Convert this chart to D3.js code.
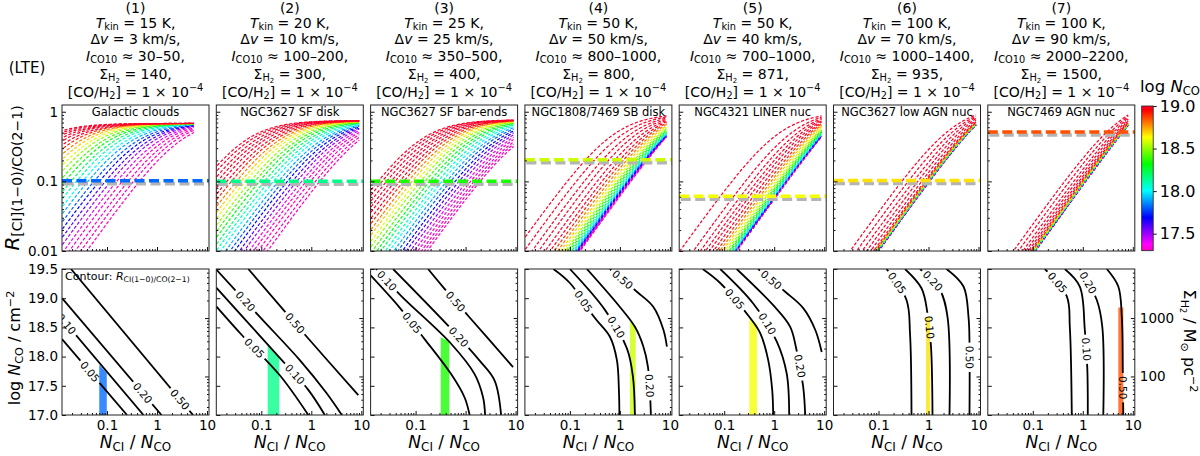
<!DOCTYPE html>
<html>
<head>
<meta charset="utf-8">
<script src="https://cdn.jsdelivr.net/npm/d3@7"></script>
<style>
body { margin: 0; background: #fff; }
svg { display: block; font-family: "DejaVu Sans", sans-serif; }
text { white-space: pre; }
</style>
</head>
<body>
<div id="vis"></div>
<script>
// ---------------- data ----------------
var panelNames = ['Galactic clouds', 'NGC3627 SF disk', 'NGC3627 SF bar-ends', 'NGC1808/7469 SB disk',
    'NGC4321 LINER nuc', 'NGC3627 low AGN nuc', 'NGC7469 AGN nuc'];
var tkin = [15, 20, 25, 50, 50, 100, 100];
var dv = [3, 10, 25, 50, 40, 70, 90];
var ico10 = ['30–50', '100–200', '350–500', '800–1000', '700–1000', '1000–1400', '2000–2200'];
var sigmaH2 = [140, 300, 400, 800, 871, 935, 1500];

// model curves (top row), one per log N_CO
var logNCO = [17.0, 17.1, 17.2, 17.3, 17.4, 17.5, 17.6, 17.7, 17.8, 17.9, 18.0, 18.1, 18.2,
    18.3, 18.4, 18.5, 18.6, 18.7, 18.8, 18.9, 19.0, 19.1, 19.2, 19.3, 19.4, 19.5];
// last N_CI/N_CO of each curve, per panel
var xEnd = [5.5, 9.1, 9.1, 8.6, 8.9, 8.9, 8.1];
// log10(N_CI/N_CO) where the rising part of each curve sits at R = 0.01
var lgX01 = [
    [-1.41, -1.53, -1.64, -1.76, -1.87, -1.99, -2.10, -2.22, -2.33, -2.45, -2.56, -2.68, -2.79, -2.91, -3.02, -3.14, -3.25, -3.37, -3.48, -3.60, -3.71, -3.83, -3.94, -4.06, -4.17, -4.29],
    [-0.88, -0.97, -1.07, -1.16, -1.25, -1.35, -1.44, -1.54, -1.63, -1.72, -1.82, -1.91, -2.00, -2.10, -2.19, -2.28, -2.38, -2.47, -2.56, -2.66, -2.75, -2.85, -2.94, -3.03, -3.13, -3.22],
    [-0.77, -0.83, -0.89, -0.96, -1.03, -1.11, -1.19, -1.27, -1.36, -1.44, -1.53, -1.61, -1.70, -1.78, -1.87, -1.96, -2.04, -2.13, -2.21, -2.30, -2.38, -2.47, -2.55, -2.64, -2.73, -2.81],
    [-0.80, -0.805, -0.81, -0.82, -0.83, -0.84, -0.85, -0.86, -0.88, -0.90, -0.92, -0.94, -0.97, -1.01, -1.05, -1.09, -1.14, -1.19, -1.25, -1.32, -1.40, -1.50, -1.63, -1.76, -1.92, -2.10],
    [-0.75, -0.752, -0.755, -0.76, -0.765, -0.77, -0.775, -0.78, -0.79, -0.80, -0.81, -0.83, -0.85, -0.88, -0.91, -0.95, -0.99, -1.04, -1.09, -1.15, -1.22, -1.30, -1.38, -1.48, -1.62, -1.89],
    [-1.00, -1.00, -1.002, -1.004, -1.006, -1.008, -1.01, -1.012, -1.015, -1.018, -1.021, -1.024, -1.028, -1.032, -1.036, -1.04, -1.046, -1.052, -1.06, -1.07, -1.10, -1.16, -1.24, -1.33, -1.44, -1.57],
    [-0.95, -0.95, -0.952, -0.954, -0.956, -0.958, -0.96, -0.962, -0.965, -0.968, -0.971, -0.974, -0.978, -0.982, -0.986, -0.99, -0.995, -1.0, -1.01, -1.02, -1.05, -1.09, -1.14, -1.20, -1.29, -1.39]
];
// R at the right end of each curve
var rEnd = [
    [0.503, 0.54, 0.566, 0.587, 0.605, 0.619, 0.628, 0.633, 0.643, 0.651, 0.657, 0.663, 0.667, 0.67, 0.672, 0.674, 0.675, 0.676, 0.677, 0.678, 0.678, 0.679, 0.679, 0.679, 0.68, 0.68],
    [0.39, 0.43, 0.47, 0.505, 0.535, 0.56, 0.58, 0.60, 0.62, 0.635, 0.65, 0.665, 0.68, 0.69, 0.70, 0.71, 0.715, 0.72, 0.725, 0.73, 0.733, 0.736, 0.739, 0.742, 0.745, 0.747],
    [0.316, 0.342, 0.368, 0.399, 0.43, 0.465, 0.498, 0.529, 0.562, 0.589, 0.616, 0.638, 0.658, 0.675, 0.691, 0.704, 0.715, 0.724, 0.732, 0.738, 0.743, 0.748, 0.752, 0.755, 0.757, 0.76],
    [0.44, 0.442, 0.444, 0.446, 0.449, 0.452, 0.455, 0.46, 0.468, 0.475, 0.485, 0.495, 0.51, 0.53, 0.55, 0.575, 0.60, 0.63, 0.66, 0.69, 0.72, 0.75, 0.78, 0.81, 0.84, 0.87],
    [0.44, 0.442, 0.444, 0.446, 0.449, 0.452, 0.455, 0.46, 0.466, 0.473, 0.482, 0.492, 0.505, 0.52, 0.54, 0.565, 0.59, 0.62, 0.65, 0.68, 0.71, 0.74, 0.77, 0.80, 0.835, 0.87],
    [0.645, 0.646, 0.647, 0.648, 0.649, 0.65, 0.652, 0.654, 0.656, 0.658, 0.66, 0.663, 0.666, 0.669, 0.672, 0.675, 0.679, 0.683, 0.688, 0.70, 0.72, 0.76, 0.80, 0.84, 0.87, 0.90],
    [0.64, 0.641, 0.642, 0.643, 0.644, 0.645, 0.647, 0.649, 0.651, 0.653, 0.655, 0.658, 0.661, 0.664, 0.667, 0.67, 0.674, 0.678, 0.683, 0.69, 0.71, 0.74, 0.78, 0.82, 0.86, 0.90]
];

// observed ratio (horizontal dashed line) and its colour value (log N_CO)
var obsR = [0.102, 0.10, 0.10, 0.204, 0.061, 0.103, 0.51];
var obsLogN = [17.82, 18.15, 18.35, 18.57, 18.62, 18.67, 18.85];
// allowed region in the bottom row: N_CI/N_CO range and top edge (log N_CO) at both sides
var bandX1 = [0.070, 0.134, 0.318, 1.59, 0.318, 0.89, 5.13];
var bandX2 = [0.099, 0.229, 0.472, 2.07, 0.453, 1.07, 6.46];
var bandTop1 = [17.86, 18.22, 18.33, 18.61, 18.66, 18.68, 18.84];
var bandTop2 = [17.72, 17.98, 18.26, 18.52, 18.56, 18.68, 18.84];

// contours of R in the (log N_CI/N_CO, log N_CO) plane
var c05 = [
    [[-1.9, 18.3], [-0.6, 17.0]],
    [[-1.9, 18.86], [-1.39, 18.37], [-0.63, 17.68], [-0.06, 17.0]],
    [[-1.9, 19.39], [-1.32, 18.84], [-0.82, 18.30], [-0.29, 17.70], [-0.02, 17.30], [0.08, 17.0]],
    [[-1.33, 19.5], [-1.0, 19.26], [-0.5, 18.66], [-0.2, 18.34], [-0.06, 17.94], [-0.02, 17.43], [-0.01, 17.0]],
    [[-1.43, 19.5], [-1.08, 19.26], [-0.48, 18.66], [-0.28, 18.40], [-0.12, 17.94], [-0.04, 17.43], [-0.02, 17.0]],
    [[-0.84, 19.5], [-0.44, 18.97], [-0.37, 18.40], [-0.34, 17.0]],
    [[-0.76, 19.5], [-0.32, 19.03], [-0.26, 18.51], [-0.22, 17.0]]
];
var c10 = [
    [[-1.9, 18.65], [-0.27, 17.0]],
    [[-1.9, 19.18], [-0.59, 17.94], [-0.06, 17.43], [0.27, 17.0]],
    [[-1.79, 19.5], [-1.29, 19.04], [-0.29, 18.22], [0.18, 17.70], [0.35, 17.30], [0.39, 17.0]],
    [[-1.0, 19.5], [-0.3, 18.80], [0.14, 18.14], [0.26, 17.66], [0.30, 17.0]],
    [[-1.08, 19.5], [-0.42, 18.91], [0.05, 18.26], [0.25, 17.71], [0.30, 17.0]],
    [[-0.47, 19.5], [-0.14, 19.17], [-0.02, 18.74], [0.05, 18.17], [0.08, 17.0]],
    [[-0.36, 19.5], [-0.06, 19.20], [0.04, 18.46], [0.09, 17.80], [0.10, 17.0]]
];
var c20 = [
    [[-1.9, 19.0], [0.09, 17.0]],
    [[-1.9, 19.49], [-1.03, 18.68], [-0.23, 17.94], [0.30, 17.38], [0.61, 17.0]],
    [[-1.45, 19.5], [-0.25, 18.44], [0.28, 17.93], [0.58, 17.59], [0.71, 17.0]],
    [[-0.66, 19.5], [0.0, 18.85], [0.30, 18.51], [0.47, 18.17], [0.56, 17.83], [0.62, 17.0]],
    [[-0.75, 19.5], [-0.02, 18.88], [0.32, 18.51], [0.44, 18.14], [0.58, 17.48], [0.62, 17.0]],
    [[-0.17, 19.5], [0.23, 19.14], [0.38, 18.68], [0.42, 17.0]],
    [[-0.06, 19.5], [0.28, 18.97], [0.39, 18.51], [0.41, 17.0]]
];
var c50 = [
    [[-1.72, 19.5], [0.72, 17.0]],
    [[-1.26, 19.5], [-0.06, 18.31], [0.94, 17.34]],
    [[-0.75, 19.5], [-0.45, 19.19], [0.05, 18.70], [0.95, 17.82]],
    [[-0.2, 19.5], [0.34, 19.11], [0.67, 18.85], [0.87, 18.46], [0.94, 18.17]],
    [[-0.32, 19.5], [0.22, 19.11], [0.58, 18.83], [0.82, 18.46], [0.95, 18.08]],
    [[0.36, 19.5], [0.70, 19.20], [0.80, 18.68], [0.82, 18.23], [0.82, 17.0]],
    [[0.48, 19.5], [0.71, 19.20], [0.78, 18.68], [0.80, 17.71], [0.81, 17.0]]
];
var lab05 = [[-1.31, 17.76], [-1.15, 18.13], [-1.09, 18.57], [-0.75, 18.93], [-0.85, 18.94], [-0.60, 19.28], [-0.51, 19.27]];
var lab10 = [[-1.84, 18.54], [-0.33, 17.70], [-1.54, 19.32], [-0.08, 18.50], [-0.14, 18.56], [0.04, 18.50], [0.08, 18.13]];
var lab20 = [[-0.29, 17.37], [-1.31, 18.96], [-0.19, 18.30], [0.60, 17.50], [0.53, 17.84], [0.06, 19.28], [0.14, 19.28]];
var lab50 = [[0.47, 17.27], [-0.31, 18.59], [-0.19, 18.95], [0.07, 19.33], [-0.04, 19.33], [0.83, 17.99], [0.82, 17.47]];

// log N_CO at which Sigma_H2 = 1000 Msun/pc2 (right axis)
var logNAtSigma1000 = 18.66;

// colour map (reversed gist_rainbow) between these log N_CO
var cmapPos = [0, 0.03, 0.215, 0.4, 0.586, 0.77, 0.954, 1];
var cmapCol = ['#ff0029', '#ff0000', '#ffff00', '#00ff00', '#00ffff', '#0000ff', '#ff00ff', '#ff00bf'];
var cbarMin = 17.3, cbarMax = 19.0;

// ---------------- layout ----------------
var L0 = 62, dL = 154.3, W = 147;
var topY0 = 105, topY1 = 251, botY0 = 269, botY1 = 415;
var lgXmin = -1.9, lgXmax = 1.04;

var svg = d3.select('#vis').append('svg').attr('width', 1200).attr('height', 456);
var defs = svg.append('defs');

var colour = d3.scaleLinear()
    .domain(cmapPos.map(function(f) { return cbarMax - f * (cbarMax - cbarMin); }))
    .range(cmapCol)
    .clamp(true);

// text with italic / sub / superscript parts
function rich(sel, parts, size) {
    var cur = 0;
    parts.forEach(function(pp) {
        var k = pp[1] || '', fs = size, off = 0;
        if (k.indexOf('b') >= 0) { fs = size * 0.7; off = size * 0.17; }
        if (k.indexOf('q') >= 0) { fs = size * 0.5; off = size * 0.27; }
        if (k.indexOf('p') >= 0) { fs = size * 0.7; off = -size * 0.4; }
        sel.append('tspan')
            .attr('dy', (off - cur).toFixed(2))
            .attr('font-size', fs)
            .attr('font-style', k.indexOf('i') >= 0 ? 'italic' : null)
            .text(pp[0]);
        cur = off;
    });
    return sel;
}

function styleAxis(g, size) {
    g.select('.domain').remove();
    g.selectAll('line').attr('stroke', '#111');
    g.selectAll('text').attr('fill', '#000').attr('font-size', size).attr('font-family', '"DejaVu Sans", sans-serif');
}

var minorX = [];
[0.01, 0.1, 1].forEach(function(d) { for (var m = 2; m <= 9; m++) minorX.push(d * m); });
var minorR = [];
[0.01, 0.1].forEach(function(d) { for (var m = 2; m <= 9; m++) minorR.push(d * m); });
var minorS = [30, 40, 50, 60, 70, 80, 90, 200, 300, 400, 500, 600, 700, 800, 900, 2000, 3000, 4000, 5000, 6000];

var yT = d3.scaleLog().domain([0.01, 1.25]).range([topY1, topY0]);
var yB = d3.scaleLinear().domain([17, 19.5]).range([botY1, botY0]);
var ySig = d3.scaleLog()
    .domain([1000 * Math.pow(10, 17 - logNAtSigma1000), 1000 * Math.pow(10, 19.5 - logNAtSigma1000)])
    .range([botY1, botY0]);

d3.range(7).forEach(function(p) {
    var L = L0 + p * dL, cx = L + W / 2;
    var x = d3.scaleLog().domain([Math.pow(10, lgXmin), Math.pow(10, lgXmax)]).range([L, L + W]);

    // ---- header ----
    var hy = [12.5, 27.5, 44, 61, 79, 96.5];
    var hs = 14;
    svg.append('text').attr('x', cx).attr('y', hy[0]).attr('text-anchor', 'middle').attr('font-size', hs).text('(' + (p + 1) + ')');
    rich(svg.append('text').attr('x', cx).attr('y', hy[1]).attr('text-anchor', 'middle'),
        [['T', 'i'], ['kin', 'b'], [' = ' + tkin[p] + ' K,']], hs);
    rich(svg.append('text').attr('x', cx).attr('y', hy[2]).attr('text-anchor', 'middle'),
        [['Δ'], ['v', 'i'], [' = ' + dv[p] + ' km/s,']], hs);
    rich(svg.append('text').attr('x', cx).attr('y', hy[3]).attr('text-anchor', 'middle'),
        [['I', 'i'], ['CO10', 'b'], [' ≈ ' + ico10[p] + ',']], hs);
    rich(svg.append('text').attr('x', cx).attr('y', hy[4]).attr('text-anchor', 'middle'),
        [['Σ'], ['H', 'b'], ['2', 'q'], [' = ' + sigmaH2[p] + ',']], hs);
    rich(svg.append('text').attr('x', cx).attr('y', hy[5]).attr('text-anchor', 'middle'),
        [['[CO/H'], ['2', 'b'], ['] = 1 × 10'], ['−4', 'p']], hs);

    // ---- top panel ----
    defs.append('clipPath').attr('id', 'ct' + p).append('rect')
        .attr('x', L).attr('y', topY0).attr('width', W).attr('height', topY1 - topY0);
    var gt = svg.append('g').attr('clip-path', 'url(#ct' + p + ')');

    var line = d3.line().x(function(d) { return x(d[0]); }).y(function(d) { return yT(d[1]); });
    logNCO.forEach(function(n, i) {
        // curve template: rises as R ~ x at small x and levels off, through the two read-off points
        var k = 0.01 / Math.pow(10, lgX01[p][i]);
        var sInv = 1 / rEnd[p][i] - 1 / (k * xEnd[p]);
        var lo = lgXmin - 0.05, hi = Math.log10(xEnd[p]);
        var pts = d3.range(0, 101).map(function(j) {
            var xv = Math.pow(10, lo + (hi - lo) * j / 100);
            return [xv, 1 / (1 / (k * xv) + sInv)];
        });
        gt.append('path').attr('d', line(pts)).attr('fill', 'none')
            .attr('stroke', colour(n)).attr('stroke-width', 1.2).attr('stroke-dasharray', '3.2,1.8');
    });

    // observed ratio with shadow
    var yo = yT(obsR[p]);
    gt.append('line').attr('x1', L + 1.5).attr('x2', L + W + 1.5).attr('y1', yo + 3).attr('y2', yo + 3)
        .attr('stroke', '#b4b4b4').attr('stroke-width', 3.5).attr('stroke-dasharray', '10,4.5');
    gt.append('line').attr('x1', L).attr('x2', L + W).attr('y1', yo).attr('y2', yo)
        .attr('stroke', colour(obsLogN[p])).attr('stroke-width', 3.5).attr('stroke-dasharray', '10,4.5');

    svg.append('text').attr('x', cx).attr('y', topY0 + 11).attr('text-anchor', 'middle')
        .attr('font-size', 11.5).text(panelNames[p]);

    svg.append('g').attr('transform', 'translate(' + L + ',0)')
        .call(d3.axisLeft(yT).tickValues([0.01, 0.1, 1]).tickSize(-4).tickPadding(4)
            .tickFormat(function(d) { return p === 0 ? (d === 1 ? '1' : String(d)) : ''; }))
        .call(styleAxis, 13.5);
    svg.append('g').attr('transform', 'translate(' + L + ',0)')
        .call(d3.axisLeft(yT).tickValues(minorR).tickSize(-2).tickFormat(''))
        .call(styleAxis, 13.5);
    svg.append('g').attr('transform', 'translate(0,' + topY1 + ')')
        .call(d3.axisBottom(x).tickValues([0.1, 1, 10]).tickSize(-4).tickFormat(''))
        .call(styleAxis, 13.5);
    svg.append('g').attr('transform', 'translate(0,' + topY1 + ')')
        .call(d3.axisBottom(x).tickValues(minorX).tickSize(-2).tickFormat(''))
        .call(styleAxis, 13.5);
    svg.append('rect').attr('x', L).attr('y', topY0).attr('width', W).attr('height', topY1 - topY0)
        .attr('fill', 'none').attr('stroke', '#222').attr('stroke-width', 1);

    // ---- bottom panel ----
    defs.append('clipPath').attr('id', 'cb' + p).append('rect')
        .attr('x', L).attr('y', botY0).attr('width', W).attr('height', botY1 - botY0);
    var gb = svg.append('g').attr('clip-path', 'url(#cb' + p + ')');

    var band = [[bandX1[p], 17], [bandX1[p], bandTop1[p]], [bandX2[p], bandTop2[p]], [bandX2[p], 17]];
    gb.append('path')
        .attr('d', 'M' + band.map(function(d) { return x(d[0]) + ',' + yB(d[1]); }).join('L') + 'Z')
        .attr('fill', colour(obsLogN[p])).attr('fill-opacity', 0.78);

    var mask = defs.append('mask').attr('id', 'mk' + p).attr('maskUnits', 'userSpaceOnUse')
        .attr('x', 0).attr('y', 0).attr('width', 1200).attr('height', 456);
    mask.append('rect').attr('x', 0).attr('y', 0).attr('width', 1200).attr('height', 456).attr('fill', '#fff');
    var gl = gb.append('g').attr('mask', 'url(#mk' + p + ')');
    var cline = d3.line()
        .x(function(d) { return x(Math.pow(10, d[0])); })
        .y(function(d) { return yB(d[1]); })
        .curve(d3.curveCatmullRom.alpha(0.5));

    [['0.05', c05, lab05], ['0.10', c10, lab10], ['0.20', c20, lab20], ['0.50', c50, lab50]].forEach(function(lv) {
        var path = gl.append('path').attr('d', cline(lv[1][p])).attr('fill', 'none')
            .attr('stroke', '#000').attr('stroke-width', 1.8);
        var node = path.node(), len = node.getTotalLength();
        var lx = x(Math.pow(10, lv[2][p][0])), ly = yB(lv[2][p][1]);
        var best = 0, bd = 1e12;
        for (var s = 0; s <= len; s += 0.5) {
            var pt = node.getPointAtLength(s);
            var dd = (pt.x - lx) * (pt.x - lx) + (pt.y - ly) * (pt.y - ly);
            if (dd < bd) { bd = dd; best = s; }
        }
        var pa = node.getPointAtLength(Math.max(0, best - 4));
        var pb = node.getPointAtLength(Math.min(len, best + 4));
        var pc = node.getPointAtLength(best);
        var ang = Math.atan2(pb.y - pa.y, pb.x - pa.x) * 180 / Math.PI;
        if (ang > 90) ang -= 180;
        if (ang <= -90) ang += 180;
        var tr = 'translate(' + pc.x + ',' + pc.y + ') rotate(' + ang + ')';
        var t = gb.append('text').attr('transform', tr).attr('text-anchor', 'middle')
            .attr('dy', '0.36em').attr('font-size', 10.5).text(lv[0]);
        var tw = t.node().getComputedTextLength();
        mask.append('rect').attr('transform', tr).attr('x', -tw / 2 - 3).attr('y', -5.5)
            .attr('width', tw + 6).attr('height', 11).attr('fill', '#000');
    });

    if (p === 0) {
        rich(svg.append('text').attr('x', L + 3).attr('y', botY0 + 11),
            [['Contour: '], ['R', 'i'], ['CI(1−0)/CO(2−1)', 'b']], 11);
    }

    svg.append('g').attr('transform', 'translate(' + L + ',0)')
        .call(d3.axisLeft(yB).tickValues([17, 17.5, 18, 18.5, 19, 19.5]).tickSize(-4).tickPadding(4)
            .tickFormat(function(d) { return p === 0 ? d.toFixed(1) : ''; }))
        .call(styleAxis, 13.5);
    svg.append('g').attr('transform', 'translate(' + (L + W) + ',0)')
        .call(d3.axisRight(ySig).tickValues([100, 1000]).tickSize(-4).tickPadding(5)
            .tickFormat(function(d) { return p === 6 ? String(d) : ''; }))
        .call(styleAxis, 13.5);
    svg.append('g').attr('transform', 'translate(' + (L + W) + ',0)')
        .call(d3.axisRight(ySig).tickValues(minorS).tickSize(-2).tickFormat(''))
        .call(styleAxis, 13.5);
    svg.append('g').attr('transform', 'translate(0,' + botY1 + ')')
        .call(d3.axisBottom(x).tickValues([0.1, 1, 10]).tickSize(-4).tickPadding(5)
            .tickFormat(function(d) { return d === 0.1 ? '0.1' : String(d); }))
        .call(styleAxis, 13.5);
    svg.append('g').attr('transform', 'translate(0,' + botY1 + ')')
        .call(d3.axisBottom(x).tickValues(minorX).tickSize(-2).tickFormat(''))
        .call(styleAxis, 13.5);
    svg.append('rect').attr('x', L).attr('y', botY0).attr('width', W).attr('height', botY1 - botY0)
        .attr('fill', 'none').attr('stroke', '#222').attr('stroke-width', 1);

    rich(svg.append('text').attr('x', cx).attr('y', 448).attr('text-anchor', 'middle'),
        [['N', 'i'], ['CI', 'b'], [' / '], ['N', 'i'], ['CO', 'b']], 17);
});

// ---- left labels ----
svg.append('text').attr('x', 27).attr('y', 73).attr('text-anchor', 'middle').attr('font-size', 15).text('(LTE)');
rich(svg.append('text').attr('transform', 'translate(19,178) rotate(-90)').attr('text-anchor', 'middle'),
    [['R', 'i'], ['[CI](1−0)/CO(2−1)', 'b']], 20);
rich(svg.append('text').attr('transform', 'translate(20,348) rotate(-90)').attr('text-anchor', 'middle'),
    [['log '], ['N', 'i'], ['CO', 'b'], [' / cm'], ['−2', 'p']], 16);

// ---- right label ----
rich(svg.append('text').attr('transform', 'translate(1184,341) rotate(90)').attr('text-anchor', 'middle'),
    [['Σ'], ['H', 'b'], ['2', 'q'], [' / M'], ['⊙', 'b'], [' pc'], ['−2', 'p']], 16);

// ---- colour bar ----
var cbX = 1141.7, cbW = 11.5;
var cbY = d3.scaleLinear().domain([cbarMin, cbarMax]).range([250.7, 106]);
var grad = defs.append('linearGradient').attr('id', 'cbg').attr('x1', 0).attr('y1', 0).attr('x2', 0).attr('y2', 1);
cmapPos.forEach(function(f, i) {
    grad.append('stop').attr('offset', f).attr('stop-color', cmapCol[i]);
});
svg.append('rect').attr('x', cbX).attr('y', cbY(cbarMax)).attr('width', cbW)
    .attr('height', cbY(cbarMin) - cbY(cbarMax)).attr('fill', 'url(#cbg)')
    .attr('stroke', '#222').attr('stroke-width', 0.8);
svg.append('g').attr('transform', 'translate(' + (cbX + cbW) + ',0)')
    .call(d3.axisRight(cbY).tickValues([17.5, 18, 18.5, 19]).tickSize(3.5).tickPadding(3)
        .tickFormat(function(d) { return d.toFixed(1); }))
    .call(styleAxis, 16);
rich(svg.append('text').attr('x', 1140).attr('y', 92), [['log '], ['N', 'i'], ['CO', 'b']], 16.5);
</script>
</body>
</html>
